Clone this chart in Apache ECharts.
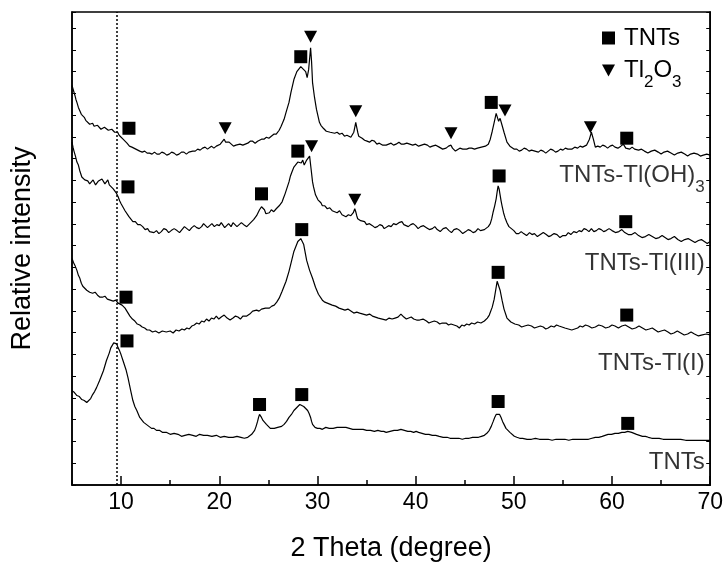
<!DOCTYPE html>
<html><head><meta charset="utf-8">
<script src="https://cdn.jsdelivr.net/npm/echarts@6/dist/echarts.min.js"></script>
<style>html,body{margin:0;padding:0;background:#fff}#c{width:726px;height:567px}</style>
</head><body><div id="c"></div>
<script>
const FONT = '"Liberation Sans", Arial, sans-serif';
const xMajorTicks = [10, 20, 30, 40, 50, 60, 70];
const refLine = 9.6;

// [2theta, relative intensity (a.u.)]
const tntsTlOH3 = [[5.0,402],[5.15,397],[5.3,392],[5.4,388],[5.5,385],[5.65,380],[5.8,378],[5.95,373],[6.1,371],[6.25,370],[6.4,367],[6.6,366],[6.8,363],[6.95,365],[7.1,364],[7.25,361],[7.4,360],[7.6,362],[7.8,361],[7.95,358],[8.1,358],[8.3,360],[8.5,359],[8.7,357],[8.9,356],[9.05,358],[9.2,357],[9.35,355],[9.5,354],[9.65,355],[9.8,352],[10.0,350],[10.2,348],[10.4,346],[10.6,344],[10.85,341],[11.1,340],[11.3,338],[11.5,338],[11.7,336],[11.9,336],[12.15,335],[12.4,336],[12.65,334],[12.9,334],[13.15,333],[13.4,335],[13.65,333],[13.9,333],[14.15,335],[14.4,334],[14.65,332],[14.9,333],[15.15,335],[15.4,334],[15.65,332],[15.9,333],[16.15,335],[16.4,335],[16.65,333],[16.9,335],[17.1,337],[17.3,336],[17.55,336],[17.8,338],[18.05,337],[18.3,339],[18.55,340],[18.8,338],[19.0,340],[19.2,341],[19.45,339],[19.7,341],[19.9,343],[20.1,343],[20.3,344],[20.5,348],[20.65,345],[20.8,344],[21.0,345],[21.2,343],[21.45,341],[21.7,342],[21.9,344],[22.1,343],[22.25,341],[22.4,342],[22.65,343],[22.9,344],[23.15,346],[23.4,346],[23.65,344],[23.9,346],[24.1,348],[24.3,348],[24.55,348],[24.8,350],[25.05,349],[25.3,351],[25.55,353],[25.8,353],[25.95,355],[26.1,357],[26.3,361],[26.6,368],[26.8,375],[27.1,385],[27.3,395],[27.6,408],[27.9,416],[28.1,418],[28.3,421],[28.5,419],[28.8,416],[28.95,410],[29.1,418],[29.3,440],[29.4,426],[29.5,405],[29.7,390],[29.9,378],[30.2,365],[30.35,362],[30.5,361],[30.6,359],[30.7,359],[30.9,356],[31.1,357],[31.3,355],[31.5,356],[31.75,354],[32.0,355],[32.25,353],[32.5,354],[32.75,351],[33.0,352],[33.2,350],[33.4,350],[33.55,352],[33.7,355],[33.8,360],[33.9,365],[34.0,360],[34.1,355],[34.2,351],[34.3,350],[34.55,349],[34.8,347],[35.05,346],[35.3,345],[35.55,347],[35.8,346],[36.05,343],[36.3,344],[36.5,345],[36.65,342],[36.8,344],[37.0,342],[37.25,343],[37.5,344],[37.75,342],[38.0,343],[38.15,345],[38.3,345],[38.55,343],[38.8,343],[39.1,344],[39.4,343],[39.7,342],[40.0,343],[40.3,341],[40.6,342],[40.9,343],[41.2,342],[41.45,340],[41.7,341],[42.05,342],[42.4,340],[42.75,338],[43.1,339],[43.35,341],[43.6,342],[43.75,339],[43.9,338],[44.05,336],[44.2,337],[44.5,339],[44.8,338],[45.0,336],[45.2,338],[45.45,339],[45.7,339],[46.0,338],[46.3,339],[46.7,340],[47.1,341],[47.4,343],[47.6,348],[47.8,356],[48.0,365],[48.2,374],[48.45,366],[48.6,369],[48.8,362],[49.0,355],[49.3,345],[49.6,341],[49.8,339],[50.05,338],[50.3,338],[50.55,336],[50.8,337],[51.05,339],[51.3,338],[51.55,336],[51.8,337],[52.15,336],[52.5,335],[52.75,337],[53.0,336],[53.25,334],[53.5,336],[53.75,338],[54.0,337],[54.25,335],[54.5,336],[54.75,338],[55.0,337],[55.25,339],[55.5,338],[55.7,336],[55.9,338],[56.2,340],[56.5,339],[56.75,341],[57.0,340],[57.2,341],[57.4,342],[57.7,348],[57.9,355],[58.1,348],[58.3,340],[58.55,341],[58.8,340],[59.05,342],[59.3,341],[59.55,339],[59.8,341],[60.05,342],[60.3,340],[60.6,339],[60.9,341],[61.15,343],[61.4,339],[61.6,337],[61.8,338],[62.05,340],[62.3,338],[62.5,336],[62.7,337],[63.0,338],[63.3,336],[63.65,334],[64.0,336],[64.35,337],[64.7,335],[65.0,333],[65.3,335],[65.65,336],[66.0,334],[66.35,332],[66.7,334],[67.05,335],[67.4,333],[67.7,331],[68.0,333],[68.35,334],[68.7,333],[69.0,331],[69.3,332],[69.65,333],[70.0,332]];

const tntsTlIII = [[5.0,345],[5.1,340],[5.2,336],[5.35,331],[5.5,325],[5.65,322],[5.8,316],[5.9,314],[6.0,310],[6.15,309],[6.3,307],[6.45,309],[6.6,306],[6.8,303],[7.0,304],[7.15,307],[7.3,305],[7.4,302],[7.5,303],[7.7,306],[7.9,304],[8.05,308],[8.2,306],[8.35,303],[8.5,305],[8.65,307],[8.8,302],[9.0,301],[9.2,298],[9.35,297],[9.5,294],[9.6,292],[9.7,290],[9.85,286],[10.0,283],[10.2,281],[10.4,276],[10.6,274],[10.8,270],[11.0,269],[11.2,265],[11.45,265],[11.7,262],[11.95,262],[12.2,260],[12.45,257],[12.7,258],[12.9,255],[13.1,257],[13.35,254],[13.6,256],[13.85,253],[14.1,255],[14.35,258],[14.6,257],[14.85,254],[15.1,256],[15.4,258],[15.7,256],[15.95,254],[16.2,257],[16.45,260],[16.7,258],[16.95,256],[17.2,259],[17.45,261],[17.7,259],[17.95,258],[18.2,260],[18.4,263],[18.6,261],[18.8,259],[19.0,261],[19.25,263],[19.5,260],[19.75,262],[20.0,261],[20.2,264],[20.4,262],[20.55,259],[20.7,261],[20.95,263],[21.2,260],[21.4,264],[21.6,262],[21.8,260],[22.0,261],[22.25,264],[22.5,262],[22.8,260],[23.1,263],[23.3,265],[23.5,267],[23.65,268],[23.8,271],[23.95,274],[24.1,277],[24.3,280],[24.45,278],[24.6,277],[24.75,273],[24.9,275],[25.1,274],[25.3,277],[25.55,275],[25.8,278],[25.95,280],[26.1,281],[26.25,283],[26.4,285],[26.55,289],[26.7,293],[26.9,299],[27.1,305],[27.25,311],[27.4,315],[27.5,317],[27.6,320],[27.8,322],[28.0,325],[28.1,323],[28.2,326],[28.35,324],[28.5,327],[28.65,322],[28.8,323],[28.9,327],[29.0,325],[29.1,328],[29.2,331],[29.35,318],[29.5,305],[29.6,300],[29.7,296],[29.8,292],[29.9,290],[30.05,287],[30.2,285],[30.35,284],[30.5,281],[30.75,281],[31.0,278],[31.25,279],[31.5,276],[31.75,275],[32.0,274],[32.25,276],[32.5,272],[32.7,273],[32.9,270],[33.15,272],[33.4,271],[33.55,270],[33.65,274],[33.8,278],[33.9,275],[34.0,271],[34.1,268],[34.2,266],[34.4,266],[34.6,264],[34.8,265],[35.0,262],[35.3,263],[35.6,261],[35.85,259],[36.1,260],[36.35,262],[36.6,261],[36.8,258],[37.0,259],[37.25,261],[37.5,260],[37.75,263],[38.0,262],[38.3,264],[38.6,265],[38.8,262],[39.0,263],[39.25,260],[39.5,262],[39.75,263],[40.0,261],[40.25,258],[40.5,260],[40.8,261],[41.1,259],[41.4,257],[41.7,258],[41.95,260],[42.2,257],[42.5,255],[42.8,258],[43.1,259],[43.4,256],[43.65,254],[43.9,257],[44.2,258],[44.5,256],[44.8,253],[45.1,255],[45.35,257],[45.6,256],[45.85,254],[46.1,255],[46.35,258],[46.6,256],[46.8,258],[47.0,257],[47.2,259],[47.4,260],[47.5,262],[47.6,263],[47.75,268],[47.9,275],[48.05,281],[48.2,288],[48.3,295],[48.4,301],[48.5,298],[48.6,292],[48.7,286],[48.8,281],[48.95,274],[49.1,269],[49.3,264],[49.5,260],[49.75,258],[50.0,256],[50.25,253],[50.5,253],[50.75,255],[51.0,253],[51.3,251],[51.6,254],[51.85,252],[52.1,253],[52.4,250],[52.7,252],[53.0,254],[53.3,252],[53.55,250],[53.8,251],[54.1,253],[54.4,252],[54.7,249],[55.0,251],[55.15,253],[55.3,251],[55.55,254],[55.8,252],[56.1,255],[56.4,254],[56.65,256],[56.9,255],[57.15,258],[57.4,257],[57.65,255],[57.9,258],[58.15,255],[58.4,256],[58.65,258],[58.9,257],[59.15,255],[59.4,256],[59.7,258],[60.0,256],[60.35,254],[60.7,255],[61.0,257],[61.3,254],[61.65,252],[62.0,252],[62.35,254],[62.7,251],[63.05,249],[63.4,250],[63.75,252],[64.1,250],[64.45,248],[64.8,249],[65.1,251],[65.4,249],[65.7,247],[66.0,248],[66.35,250],[66.7,247],[67.05,245],[67.4,247],[67.75,248],[68.1,246],[68.45,244],[68.8,246],[69.1,247],[69.4,245],[69.7,243],[70.0,245]];

const tntsTlI = [[5.0,228],[5.15,224],[5.3,221],[5.4,219],[5.5,216],[5.65,211],[5.8,208],[5.95,203],[6.1,200],[6.3,199],[6.5,196],[6.8,194],[7.1,193],[7.35,194],[7.6,191],[7.85,189],[8.1,189],[8.35,190],[8.6,187],[8.9,186],[9.2,185],[9.45,186],[9.7,183],[9.9,182],[10.1,181],[10.25,180],[10.4,178],[10.65,174],[10.9,170],[11.15,167],[11.4,165],[11.65,162],[11.9,161],[12.15,159],[12.4,158],[12.65,156],[12.9,156],[13.2,154],[13.5,155],[13.85,153],[14.2,155],[14.6,154],[15.0,155],[15.3,153],[15.6,156],[15.9,155],[16.2,157],[16.45,156],[16.7,158],[16.95,157],[17.2,160],[17.45,161],[17.7,163],[17.95,162],[18.2,165],[18.45,164],[18.7,167],[18.95,165],[19.2,168],[19.45,167],[19.7,170],[19.95,167],[20.2,169],[20.5,171],[20.8,168],[21.1,166],[21.4,168],[21.65,170],[21.9,169],[22.15,167],[22.4,170],[22.6,172],[22.8,170],[22.95,172],[23.1,172],[23.25,174],[23.4,175],[23.6,174],[23.8,176],[24.05,175],[24.3,177],[24.5,179],[24.7,178],[24.9,176],[25.1,178],[25.35,180],[25.6,181],[25.85,184],[26.1,188],[26.4,195],[26.8,205],[27.1,215],[27.4,227],[27.6,235],[28.0,245],[28.3,248],[28.6,242],[28.9,226],[29.2,216],[29.5,208],[29.8,199],[30.1,192],[30.5,186],[30.75,184],[31.0,183],[31.25,182],[31.5,181],[31.85,180],[32.2,178],[32.5,177],[32.8,176],[33.1,177],[33.4,175],[33.7,173],[34.0,174],[34.15,176],[34.3,173],[34.65,172],[35.0,171],[35.3,172],[35.6,170],[35.9,169],[36.2,168],[36.6,167],[37.0,166],[37.3,168],[37.6,167],[37.9,168],[38.2,169],[38.35,170],[38.5,172],[38.65,170],[38.8,169],[39.05,167],[39.3,168],[39.55,169],[39.8,167],[40.1,166],[40.4,166],[40.75,167],[41.1,165],[41.35,163],[41.6,164],[41.9,165],[42.2,164],[42.45,162],[42.7,163],[42.9,164],[43.1,163],[43.35,161],[43.6,162],[43.9,161],[44.2,160],[44.45,158],[44.7,161],[44.95,160],[45.2,162],[45.45,161],[45.7,163],[46.0,162],[46.3,164],[46.65,163],[47.0,165],[47.3,168],[47.5,171],[47.8,179],[48.0,187],[48.3,205],[48.6,196],[48.8,186],[49.0,177],[49.3,168],[49.7,164],[49.9,163],[50.1,162],[50.3,161],[50.5,161],[50.8,159],[51.1,160],[51.45,161],[51.8,160],[52.1,158],[52.4,159],[52.7,160],[53.0,159],[53.25,157],[53.5,158],[53.8,160],[54.1,159],[54.35,161],[54.6,160],[54.9,159],[55.2,158],[55.55,157],[55.9,156],[56.2,157],[56.5,158],[56.75,160],[57.0,159],[57.3,161],[57.6,160],[57.95,158],[58.3,159],[58.65,161],[59.0,160],[59.35,158],[59.7,159],[60.0,161],[60.3,160],[60.65,158],[61.0,160],[61.35,161],[61.7,159],[62.05,157],[62.4,158],[62.75,160],[63.1,158],[63.45,156],[63.8,157],[64.1,158],[64.4,156],[64.7,154],[65.0,155],[65.35,156],[65.7,154],[66.0,152],[66.3,153],[66.65,155],[67.0,153],[67.35,151],[67.7,152],[68.05,154],[68.4,152],[68.8,150],[69.2,151],[69.6,152],[70.0,151]];

const tnts = [[5.0,95],[5.25,93],[5.5,90],[5.75,89],[6.0,86],[6.25,85],[6.5,83],[6.7,85],[6.9,87],[7.1,91],[7.3,94],[7.5,98],[7.8,105],[8.0,110],[8.2,115],[8.5,125],[8.8,133],[8.95,138],[9.1,140],[9.25,143],[9.4,145],[9.55,142],[9.7,138],[9.85,135],[10.0,131],[10.2,125],[10.5,116],[10.7,108],[11.0,94],[11.2,85],[11.4,79],[11.6,75],[11.9,68],[12.1,66],[12.3,63],[12.5,62],[12.7,60],[12.9,58],[13.1,57],[13.35,57],[13.6,55],[13.9,55],[14.2,53],[14.6,53],[15.0,51],[15.4,52],[15.8,51],[16.15,49],[16.5,50],[16.9,51],[17.3,50],[17.65,49],[18.0,51],[18.4,50],[18.8,50],[19.25,49],[19.7,50],[20.1,48],[20.5,49],[20.95,48],[21.4,48],[21.8,49],[22.2,48],[22.55,47],[22.9,48],[23.1,49],[23.3,51],[23.45,53],[23.6,55],[23.75,59],[23.9,64],[24.0,68],[24.1,71],[24.2,70],[24.3,68],[24.45,65],[24.6,63],[24.8,61],[25.0,59],[25.2,57],[25.4,56],[25.6,57],[25.8,57],[25.95,58],[26.1,58],[26.35,59],[26.6,61],[26.85,64],[27.1,68],[27.35,71],[27.6,75],[27.9,78],[28.2,81],[28.4,80],[28.6,79],[28.8,77],[29.0,75],[29.15,72],[29.3,68],[29.4,64],[29.5,61],[29.75,58],[30.0,57],[30.25,57],[30.5,56],[30.85,58],[31.2,57],[31.6,57],[32.0,58],[32.45,58],[32.9,58],[33.25,57],[33.6,56],[33.95,56],[34.3,56],[34.65,56],[35.0,55],[35.4,55],[35.8,54],[36.15,55],[36.5,54],[36.75,54],[37.0,53],[37.4,54],[37.8,55],[38.15,55],[38.5,56],[38.85,55],[39.2,54],[39.5,54],[39.8,53],[40.05,54],[40.3,53],[40.65,52],[41.0,51],[41.35,51],[41.7,50],[42.05,50],[42.4,49],[42.8,48],[43.2,48],[43.5,47],[43.8,47],[44.1,47],[44.4,47],[44.75,46],[45.1,47],[45.45,47],[45.8,48],[46.1,48],[46.4,48],[46.7,49],[47.0,50],[47.25,52],[47.5,55],[47.7,59],[47.9,64],[48.05,68],[48.2,71],[48.3,72],[48.4,73],[48.55,71],[48.7,68],[48.85,64],[49.0,61],[49.2,57],[49.4,55],[49.6,53],[49.8,51],[50.05,49],[50.3,48],[50.6,47],[50.9,47],[51.35,46],[51.8,46],[52.2,47],[52.6,46],[53.05,46],[53.5,46],[53.9,45],[54.3,46],[54.75,46],[55.2,46],[55.6,45],[56.0,46],[56.4,46],[56.8,46],[57.2,46],[57.6,46],[57.95,47],[58.3,48],[58.65,48],[59.0,49],[59.3,50],[59.6,51],[59.95,51],[60.3,52],[60.65,52],[61.0,53],[61.3,53],[61.6,54],[61.8,54],[62.0,53],[62.25,52],[62.5,51],[62.8,50],[63.1,49],[63.4,49],[63.7,48],[64.05,47],[64.4,47],[64.8,47],[65.2,46],[65.6,46],[66.0,46],[66.5,46],[67.0,46],[67.5,45],[68.0,45],[68.5,45],[69.0,45],[69.5,45],[70.0,45]];

// phase markers [2theta, intensity]
const tntsMarks = [[10.8,359],[28.3,431],[47.7,385],[61.5,349],[10.7,300],[24.3,293],[28.0,336],[48.5,311],[61.4,265],[10.5,189],[28.4,257],[48.4,214],[61.5,171],[10.6,145],[24.1,81],[28.4,91],[48.4,84],[61.6,62]];
const tl2o3Marks = [[20.6,359],[29.3,451],[33.9,376],[43.6,354],[49.1,377],[57.8,360],[29.4,341],[33.8,287]];

// curve labels: [2theta, intensity, text]
const curveLabels = [[70,312,'TNTs-Tl(OH)3'],[70,223,'TNTs-Tl(III)'],[70,122,'TNTs-Tl(I)'],[70,23,'TNTs']];

const TRI = 'path://M0,0L12,0L6,11Z';
const rich = {
  a: {fontFamily: FONT, fontSize: 24, color: '#000', lineHeight: 28},
  s: {fontFamily: FONT, fontSize: 17, color: '#000', lineHeight: 4, padding: [24, 0, 0, 0]}
};
function toRich(t) {
  if (t === 'Tl2O3') return '{a|Tl}{s|2}{a|O}{s|3}';
  if (t === 'TNTs-Tl(OH)3') return '{a|TNTs-Tl(OH)}{s|3}';
  return '{a|' + t + '}';
}

const chart = echarts.init(document.getElementById('c'), null, {renderer: 'canvas'});
const axisLine = {show: true, onZero: false, lineStyle: {color: '#000', width: 1.5}};
const line = (name, data) => ({
  type: 'line', name, data, symbol: 'none', showSymbol: false, silent: true,
  lineStyle: {color: '#000', width: 1.2}, z: 2
});
const s4 = line('TNTs curve', tnts);
s4.markLine = {symbol: 'none', silent: true, label: {show: false},
  lineStyle: {type: [2, 2], color: '#000', width: 1.5}, data: [{xAxis: refLine}]};

chart.setOption({
  animation: false,
  backgroundColor: '#fff',
  grid: {left: 72, right: 13, top: 12, bottom: 79, show: true, borderColor: '#000', borderWidth: 1.5},
  xAxis: [{
    type: 'value', min: 5, max: 70, interval: 5,
    axisLine, axisTick: {show: true, inside: true, length: 5, lineStyle: {color: '#000', width: 1.5}},
    axisLabel: {show: false}, splitLine: {show: false},
    name: '2 Theta (degree)', nameLocation: 'middle', nameGap: 50,
    nameTextStyle: {fontFamily: FONT, fontSize: 27, color: '#000'}
  }, {
    type: 'value', min: 5, max: 70, position: 'bottom',
    axisLine: {show: false},
    axisTick: {show: true, inside: true, length: 9, customValues: xMajorTicks, lineStyle: {color: '#000', width: 1.5}},
    axisLabel: {show: true, customValues: xMajorTicks, margin: 6, fontFamily: FONT, fontSize: 23, color: '#000'},
    splitLine: {show: false}
  }],
  yAxis: [{
    type: 'value', min: 0, max: 476, interval: 21.9,
    axisLine, axisTick: {show: true, inside: true, length: 4, lineStyle: {color: '#000', width: 1}},
    axisLabel: {show: false}, splitLine: {show: false},
    name: 'Relative intensity', nameLocation: 'middle', nameGap: 36,
    nameTextStyle: {fontFamily: FONT, fontSize: 27, color: '#000'}
  }, {
    type: 'value', min: 0, max: 476, interval: 21.9, position: 'right',
    axisLine, axisTick: {show: true, inside: true, length: 4, lineStyle: {color: '#000', width: 1}},
    axisLabel: {show: false}, splitLine: {show: false}
  }],
  legend: {
    orient: 'vertical', left: 602, top: 26, padding: 0, itemGap: 0, itemWidth: 13, itemHeight: 13,
    data: [{name: 'TNTs', icon: 'rect'}, {name: 'Tl2O3', icon: TRI}],
    formatter: toRich,
    textStyle: {rich, padding: [0, 0, 0, 4]},
    itemStyle: {opacity: 1},
    selectedMode: false
  },
  series: [
    line('TNTs-Tl(OH)3 curve', tntsTlOH3),
    line('TNTs-Tl(III) curve', tntsTlIII),
    line('TNTs-Tl(I) curve', tntsTlI),
    s4,
    {type: 'scatter', name: 'TNTs', data: tntsMarks, symbol: 'rect', symbolSize: 13,
      itemStyle: {color: '#000', opacity: 1}, z: 3, silent: true},
    {type: 'scatter', name: 'Tl2O3', data: tl2o3Marks, symbol: TRI, symbolSize: [13, 12],
      itemStyle: {color: '#000', opacity: 1}, z: 3, silent: true},
    {type: 'scatter', name: 'labels', data: curveLabels, symbol: 'circle', symbolSize: 1, silent: true,
      itemStyle: {color: 'rgba(0,0,0,0)'}, z: 4,
      label: {show: true, position: 'left', distance: 5, color: '#000',
        formatter: p => toRich(p.data[2]), rich}}
  ]
});
</script>
</body></html>
